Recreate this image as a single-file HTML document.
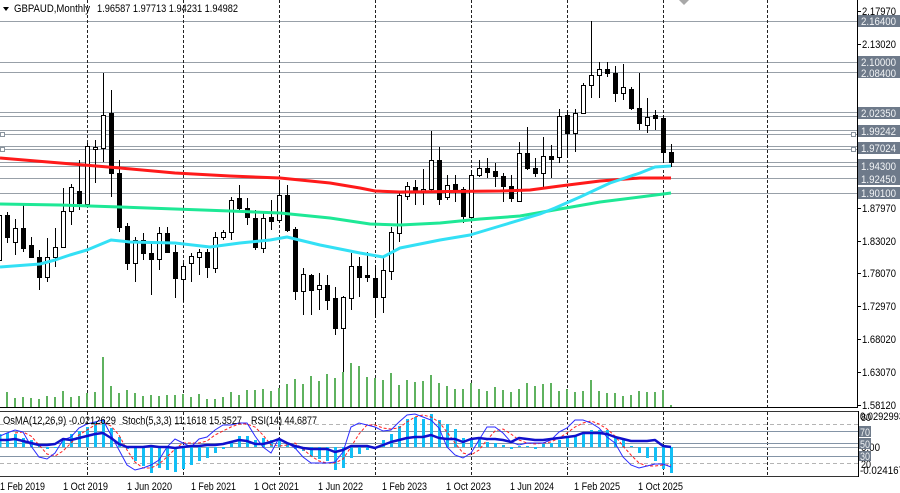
<!DOCTYPE html>
<html><head><meta charset="utf-8"><style>
html,body{margin:0;padding:0;background:#fff;}
svg{display:block;font-family:"Liberation Sans",Arial,sans-serif;font-size:11px;}
</style></head><body>
<svg width="900" height="493" viewBox="0 0 900 493" xmlns="http://www.w3.org/2000/svg">
<rect width="900" height="493" fill="#fff"/>
<!-- level lines -->
<g stroke="#98a0a8" stroke-width="1" shape-rendering="crispEdges">
<path d="M0 21.5H857M0 62.5H857M0 72.5H857M0 112.5H857M0 116.5H857M0 130.5H857M0 134.5H857M0 146.5H857M0 149.5H857M0 162.5H857M0 166.5H857M0 178.5H857M0 193.5H857"/>
</g>
<g fill="#fff" stroke="#8a949e" shape-rendering="crispEdges">
<rect x="0.5" y="132.5" width="4" height="4"/><rect x="0.5" y="147.5" width="4" height="4"/>
<rect x="851.5" y="132.5" width="4" height="4"/><rect x="851.5" y="147.5" width="4" height="4"/>
</g>
<!-- vertical dashed grid -->
<g stroke="#222" stroke-width="1" stroke-dasharray="3,2" shape-rendering="crispEdges">
<path d="M87.5 0V407M183.5 0V407M279.5 0V407M375.5 0V407M471.5 0V407M567.5 0V407M663.5 0V407M767.5 0V407"/>
<path d="M87.5 412V476M183.5 412V476M279.5 412V476M375.5 412V476M471.5 412V476M567.5 412V476M663.5 412V476M767.5 412V476"/>
</g>
<!-- volumes -->
<path stroke="#5fb25f" stroke-width="2" fill="none" d="M7 407V392M15 407V398M23 407V397M31 407V398M39 407V399M47 407V396M55 407V397M63 407V391M71 407V397M79 407V396M87 407V393M95 407V392M103 407V357M111 407V386M119 407V393M127 407V390M135 407V393M143 407V396M151 407V395M159 407V396M167 407V395M175 407V395M183 407V394M191 407V397M199 407V394M207 407V399M215 407V399M223 407V397M231 407V392M239 407V395M247 407V390M255 407V390M263 407V389M271 407V391M279 407V388M287 407V384M295 407V379M303 407V384M311 407V376M319 407V381M327 407V374M335 407V378M343 407V372M351 407V363M359 407V366M367 407V377M375 407V378M383 407V380M391 407V373M399 407V385M407 407V380M415 407V382M423 407V381M431 407V375M439 407V383M447 407V386M455 407V389M463 407V389M471 407V383M479 407V389M487 407V391M495 407V387M503 407V390M511 407V392M519 407V389M527 407V383M535 407V386M543 407V384M551 407V383M559 407V391M567 407V389M575 407V392M583 407V391M591 407V380M599 407V391M607 407V393M615 407V393M623 407V396M631 407V395M639 407V391M647 407V392M655 407V392M663 407V390M671 407V405"/>
<!-- candle wicks -->
<path stroke="#000" stroke-width="1" fill="none" shape-rendering="crispEdges" d="M-0.5 210V265M7.5 212V243M15.5 219V255M23.5 203V252M31.5 237V258M39.5 250V290M47.5 238V282M55.5 228V267M63.5 188V248M71.5 184V225M79.5 160V210M87.5 143V207M95.5 140V183M103.5 73V162M111.5 90V197M119.5 160V232M127.5 223V270M135.5 237V282M143.5 233V260M151.5 242V295M159.5 227V270M167.5 227V253M175.5 245V298M183.5 263V302M191.5 253V282M199.5 249V275M207.5 249V278M215.5 232V273M223.5 230V240M231.5 197V240M239.5 185V210M247.5 198V225M255.5 210V250M263.5 213V253M271.5 200V230M279.5 180V223M287.5 185V232M295.5 227V300M303.5 268V315M311.5 274V315M319.5 273V310M327.5 275V310M335.5 287V335M343.5 296V372M351.5 253V310M359.5 257V297M367.5 252V282M375.5 265V318M383.5 258V313M391.5 227V280M399.5 193V242M407.5 182V200M415.5 180V205M423.5 169V205M431.5 131V192M439.5 147V205M447.5 175V200M455.5 175V202M463.5 187V223M471.5 170V220M479.5 160V177M487.5 158V178M495.5 163V187M503.5 173V202M511.5 175V202M519.5 142V202M527.5 127V170M535.5 158V177M543.5 137V187M551.5 145V178M559.5 109V163M567.5 110V158M575.5 109V152M583.5 83V113M591.5 21V98M599.5 62V98M607.5 62V77M615.5 66V102M623.5 64V100M631.5 87V110M639.5 73V130M647.5 98V133M655.5 110V130M663.5 115V163M671.5 144V167"/>
<!-- white bodies -->
<g fill="#fff" stroke="#000" stroke-width="1" shape-rendering="crispEdges">
<rect x="-2.5" y="215.5" width="4" height="45"/>
<rect x="13.5" y="228.5" width="4" height="14"/>
<rect x="45.5" y="257.5" width="4" height="20"/>
<rect x="53.5" y="247.5" width="4" height="10"/>
<rect x="61.5" y="211.5" width="4" height="36"/>
<rect x="69.5" y="187.5" width="4" height="24"/>
<rect x="85.5" y="146.5" width="4" height="58"/>
<rect x="93.5" y="147.5" width="4" height="2"/>
<rect x="101.5" y="115.5" width="4" height="33"/>
<rect x="133.5" y="240.5" width="4" height="23"/>
<rect x="157.5" y="233.5" width="4" height="26"/>
<rect x="181.5" y="266.5" width="4" height="13"/>
<rect x="189.5" y="256.5" width="4" height="7"/>
<rect x="197.5" y="252.5" width="4" height="5"/>
<rect x="213.5" y="237.5" width="4" height="31"/>
<rect x="221.5" y="232.5" width="4" height="5"/>
<rect x="229.5" y="200.5" width="4" height="32"/>
<rect x="261.5" y="218.5" width="4" height="30"/>
<rect x="277.5" y="195.5" width="4" height="25"/>
<rect x="301.5" y="274.5" width="4" height="17"/>
<rect x="317.5" y="285.5" width="4" height="4"/>
<rect x="341.5" y="297.5" width="4" height="31"/>
<rect x="349.5" y="266.5" width="4" height="32"/>
<rect x="381.5" y="270.5" width="4" height="27"/>
<rect x="389.5" y="232.5" width="4" height="39"/>
<rect x="397.5" y="195.5" width="4" height="38"/>
<rect x="405.5" y="186.5" width="4" height="10"/>
<rect x="421.5" y="189.5" width="4" height="2"/>
<rect x="429.5" y="160.5" width="4" height="29"/>
<rect x="445.5" y="185.5" width="4" height="12"/>
<rect x="469.5" y="175.5" width="4" height="42"/>
<rect x="477.5" y="168.5" width="4" height="7"/>
<rect x="517.5" y="153.5" width="4" height="48"/>
<rect x="541.5" y="156.5" width="4" height="17"/>
<rect x="557.5" y="116.5" width="4" height="41"/>
<rect x="573.5" y="113.5" width="4" height="20"/>
<rect x="581.5" y="85.5" width="4" height="28"/>
<rect x="589.5" y="75.5" width="4" height="10"/>
<rect x="597.5" y="69.5" width="4" height="6"/>
<rect x="621.5" y="87.5" width="4" height="6"/>
<rect x="645.5" y="117.5" width="4" height="8"/>
</g>
<!-- black bodies -->
<g fill="#000" stroke="#000" stroke-width="1" shape-rendering="crispEdges">
<rect x="5.5" y="215.5" width="4" height="22"/>
<rect x="21.5" y="228.5" width="4" height="20"/>
<rect x="29.5" y="245.5" width="4" height="12"/>
<rect x="37.5" y="257.5" width="4" height="20"/>
<rect x="77.5" y="191.5" width="4" height="12"/>
<rect x="109.5" y="113.5" width="4" height="60"/>
<rect x="117.5" y="173.5" width="4" height="54"/>
<rect x="125.5" y="226.5" width="4" height="37"/>
<rect x="141.5" y="240.5" width="4" height="13"/>
<rect x="149.5" y="253.5" width="4" height="6"/>
<rect x="165.5" y="233.5" width="4" height="19"/>
<rect x="173.5" y="252.5" width="4" height="26"/>
<rect x="205.5" y="252.5" width="4" height="15"/>
<rect x="237.5" y="198.5" width="4" height="10"/>
<rect x="245.5" y="208.5" width="4" height="9"/>
<rect x="253.5" y="218.5" width="4" height="29"/>
<rect x="269.5" y="217.5" width="4" height="4"/>
<rect x="285.5" y="195.5" width="4" height="35"/>
<rect x="293.5" y="229.5" width="4" height="62"/>
<rect x="309.5" y="275.5" width="4" height="15"/>
<rect x="325.5" y="285.5" width="4" height="15"/>
<rect x="333.5" y="298.5" width="4" height="30"/>
<rect x="357.5" y="266.5" width="4" height="11"/>
<rect x="365.5" y="275.5" width="4" height="2"/>
<rect x="373.5" y="278.5" width="4" height="19"/>
<rect x="413.5" y="187.5" width="4" height="3"/>
<rect x="437.5" y="160.5" width="4" height="39"/>
<rect x="453.5" y="184.5" width="4" height="5"/>
<rect x="461.5" y="189.5" width="4" height="27"/>
<rect x="485.5" y="168.5" width="4" height="4"/>
<rect x="493.5" y="171.5" width="4" height="5"/>
<rect x="501.5" y="176.5" width="4" height="10"/>
<rect x="509.5" y="186.5" width="4" height="12"/>
<rect x="525.5" y="153.5" width="4" height="15"/>
<rect x="533.5" y="168.5" width="4" height="5"/>
<rect x="549.5" y="156.5" width="4" height="3"/>
<rect x="565.5" y="115.5" width="4" height="18"/>
<rect x="605.5" y="69.5" width="4" height="4"/>
<rect x="613.5" y="73.5" width="4" height="20"/>
<rect x="629.5" y="89.5" width="4" height="19"/>
<rect x="637.5" y="108.5" width="4" height="15"/>
<rect x="653.5" y="115.5" width="4" height="3"/>
<rect x="661.5" y="118.5" width="4" height="34"/>
<rect x="669.5" y="152.5" width="4" height="10"/>
</g>
<!-- moving averages -->
<g fill="none" stroke-width="3" stroke-linejoin="round">
<polyline stroke="#ff1a1a" points="0,158 60,163 120,168 175,173 230,176 280,178 330,183 360,188 375,191 400,192 500,191 530,190 560,186 600,181 640,178 671,178"/>
<polyline stroke="#1ee896" points="0,204 60,205 120,207 175,209 230,211 280,213 330,218 370,224 400,225 440,223 480,219 520,216 560,209 600,202 640,197 671,193"/>
<polyline stroke="#33e0f5" points="0,267 40,264 55,260 70,255 87,250 111,240 130,242 175,243 210,247 240,243 270,240 287,237 320,245 360,253 383,257 400,248 440,240 470,235 500,226 540,214 555,208 580,197 610,183 640,173 655,167 671,166"/>
</g>
<!-- header -->
<polygon points="3,7 9,7 6,11" fill="#000"/>
<text x="14" y="12" fill="#000" textLength="76" lengthAdjust="spacingAndGlyphs">GBPAUD,Monthly</text>
<text x="97" y="12" fill="#000" textLength="141" lengthAdjust="spacingAndGlyphs">1.96587 1.97713 1.94231 1.94982</text>
<polygon points="679,0 689,0 684,5" fill="#a8a8a8"/>
<!-- main panel frame -->
<g stroke="#000" shape-rendering="crispEdges">
<line x1="857.5" y1="0" x2="857.5" y2="408"/>
<line x1="0" y1="407.5" x2="858" y2="407.5"/>
</g>
<!-- right axis ticks -->
<path stroke="#000" shape-rendering="crispEdges" d="M857 11.5H861M857 44.5H861M857 208.5H861M857 241.5H861M857 273.5H861M857 306.5H861M857 339.5H861M857 372.5H861M857 405.5H861"/>
<g fill="#000">
<text x="862" y="15" textLength="34" lengthAdjust="spacingAndGlyphs">2.17970</text>
<text x="862" y="48" textLength="34" lengthAdjust="spacingAndGlyphs">2.13020</text>
<text x="862" y="212" textLength="34" lengthAdjust="spacingAndGlyphs">1.87970</text>
<text x="862" y="245" textLength="34" lengthAdjust="spacingAndGlyphs">1.83020</text>
<text x="862" y="277" textLength="34" lengthAdjust="spacingAndGlyphs">1.78070</text>
<text x="862" y="310" textLength="34" lengthAdjust="spacingAndGlyphs">1.72970</text>
<text x="862" y="343" textLength="34" lengthAdjust="spacingAndGlyphs">1.68020</text>
<text x="862" y="376" textLength="34" lengthAdjust="spacingAndGlyphs">1.63070</text>
<text x="862" y="409" textLength="34" lengthAdjust="spacingAndGlyphs">1.58120</text>
</g>
<!-- level label boxes -->
<g fill="#6e7a8a">
<rect x="858" y="15" width="42" height="12"/>
<rect x="858" y="56" width="42" height="12"/>
<rect x="858" y="68" width="42" height="10"/>
<rect x="858" y="107" width="42" height="12"/>
<rect x="858" y="125" width="42" height="12"/>
<rect x="858" y="142" width="42" height="12"/>
<rect x="858" y="159" width="42" height="13"/>
<rect x="858" y="172" width="42" height="13"/>
<rect x="858" y="187" width="42" height="12"/>
</g>
<g fill="#f2f4f6">
<text x="861" y="25" textLength="35" lengthAdjust="spacingAndGlyphs">2.16400</text>
<text x="861" y="66" textLength="35" lengthAdjust="spacingAndGlyphs">2.10000</text>
<text x="861" y="77" textLength="35" lengthAdjust="spacingAndGlyphs">2.08400</text>
<text x="861" y="117" textLength="35" lengthAdjust="spacingAndGlyphs">2.02350</text>
<text x="861" y="135" textLength="35" lengthAdjust="spacingAndGlyphs">1.99242</text>
<text x="861" y="152" textLength="35" lengthAdjust="spacingAndGlyphs">1.97024</text>
<text x="861" y="170" textLength="35" lengthAdjust="spacingAndGlyphs">1.94300</text>
<text x="861" y="183" textLength="35" lengthAdjust="spacingAndGlyphs">1.92450</text>
<text x="861" y="197" textLength="35" lengthAdjust="spacingAndGlyphs">1.90100</text>
</g>
<!-- indicator panel -->
<g shape-rendering="crispEdges">
<line x1="0" y1="411.5" x2="858" y2="411.5" stroke="#333"/>
<line x1="0" y1="476.5" x2="858" y2="476.5" stroke="#333"/>
<line x1="858.5" y1="411" x2="858.5" y2="477" stroke="#000"/>
<path stroke="#b4b4b4" stroke-dasharray="4,3" d="M0 424.5H858M0 463.5H858"/>
<path stroke="#8494a6" d="M0 431.5H858M0 443.5H858M0 456.5H858"/>
<path stroke="#9aa4ae" d="M0 447.5H858"/>
</g>
<!-- OsMA histogram -->
<path stroke="#12bff5" stroke-width="3" fill="none" shape-rendering="crispEdges" d="M0 447V434M7.5 447V433M15.5 447V434M23.5 447V438M31.5 447V440M39.5 447V446M47.5 447V449M55.5 447V448M63.5 447V440M71.5 447V434M79.5 447V431M87.5 447V427M95.5 447V422M103.5 447V420M111.5 447V428M119.5 447V437M127.5 447V449M135.5 447V461M143.5 447V466M151.5 447V473M159.5 447V468M167.5 447V470M175.5 447V472M183.5 447V469M191.5 447V465M199.5 447V461M207.5 447V458M215.5 447V453M223.5 447V449M231.5 447V442M239.5 447V436M247.5 447V436M255.5 447V440M263.5 447V438M271.5 447V440M279.5 447V439M287.5 447V443M295.5 447V449M303.5 447V451M311.5 447V457M319.5 447V459M327.5 447V461M335.5 447V470M343.5 447V468M351.5 447V458M359.5 447V454M367.5 447V450M375.5 447V448M383.5 447V440M391.5 447V434M399.5 447V426M407.5 447V419M415.5 447V417M423.5 447V419M431.5 447V414M439.5 447V420M447.5 447V424M455.5 447V429M463.5 447V438M471.5 447V440M479.5 447V439M487.5 447V442M495.5 447V443M503.5 447V445M511.5 447V449M519.5 447V446M527.5 447V446M535.5 447V449M543.5 447V444M551.5 447V443M559.5 447V440M567.5 447V437M575.5 447V436M583.5 447V433M591.5 447V430M599.5 447V430M607.5 447V430M615.5 447V437M623.5 447V439M631.5 447V446M639.5 447V453M647.5 447V458M655.5 447V461M663.5 447V469M671.5 447V473"/>
<!-- Stoch signal -->
<polyline fill="none" stroke="#ff2020" stroke-width="1" stroke-dasharray="3,2" points="15,433 23,432 31,436 39,445 47,454 55,456 63,451 71,443 79,435 87,430 95,425 103,422 111,426 119,435 127,450 135,462 143,468 151,468 159,464 167,457 175,449 183,443 191,443 199,443 207,441 215,435 223,431 231,427 239,424 247,424 255,427 263,435 271,445 279,446 287,445 295,443 303,449 311,456 319,461 327,463 335,463 343,459 351,447 359,434 367,425 375,425 383,428 391,429 399,428 407,422 415,417 423,415 431,417 439,422 447,432 455,443 463,453 471,455 479,450 487,440 495,431 503,429 511,434 519,440 527,443 535,444 543,443 551,442 559,438 567,433 575,427 583,423 591,421 599,424 607,429 615,436 623,446 631,455 639,463 647,466 655,466 663,465 671,465"/>
<!-- Stoch main -->
<polyline fill="none" stroke="#2a2aff" stroke-width="1" points="0,436 7,433 15,430 23,432 31,446 39,457 47,459 55,453 63,440 71,437 79,428 87,424 95,422 103,420 111,435 119,450 127,465 135,470 143,468 151,465 159,460 167,447 175,439 183,443 191,447 199,439 207,437 215,430 223,425 231,425 239,423 247,423 255,436 263,447 271,453 279,438 287,443 295,448 303,457 311,463 319,463 327,463 335,462 343,452 351,427 359,423 367,425 375,427 383,431 391,430 399,422 407,415 415,414 423,417 431,420 439,428 447,447 455,455 463,458 471,453 479,440 487,427 495,427 503,433 511,442 519,445 527,443 535,443 543,443 551,440 559,432 567,428 575,420 583,420 591,423 599,428 607,437 615,443 623,457 631,465 639,468 647,466 655,464 663,464 671,467"/>
<!-- RSI -->
<polyline fill="none" stroke="#1010cc" stroke-width="2.5" stroke-linejoin="round" points="0,440 7,440 15,439 23,441 31,443 39,445 47,445 55,444 63,439 71,440 79,438 87,436 95,434 103,433 111,438 119,444 127,447 135,447 143,447 151,446 159,447 167,447 175,448 183,447 191,446 199,446 207,445 215,445 223,444 231,442 239,440 247,441 255,444 263,444 271,442 279,439 287,443 295,446 303,448 311,449 319,449 327,449 335,452 343,450 351,446 359,446 367,446 375,448 383,445 391,442 399,440 407,438 415,437 423,437 431,435 439,438 447,439 455,439 463,442 471,439 479,438 487,439 495,439 503,440 511,442 519,438 527,439 535,440 543,440 551,439 559,438 567,437 575,436 583,433 591,433 599,433 607,434 615,437 623,439 631,441 639,441 647,441 655,440 663,446 671,447"/>
<!-- indicator label -->
<g fill="#000">
<text x="3" y="424" textLength="113" lengthAdjust="spacingAndGlyphs">OsMA(12,26,9) -0.0212629</text>
<text x="122" y="424" textLength="120" lengthAdjust="spacingAndGlyphs">Stoch(5,3,3) 11.1618 15.3527</text>
<text x="251" y="424" textLength="66" lengthAdjust="spacingAndGlyphs">RSI(14) 44.6877</text>
</g>
<!-- indicator right axis -->
<g fill="#000">
<text x="861" y="421" textLength="10" lengthAdjust="spacingAndGlyphs">80</text>
<text x="860" y="420" textLength="44" lengthAdjust="spacingAndGlyphs">0.0292993</text>
<text x="861" y="451" textLength="19" lengthAdjust="spacingAndGlyphs">0.00</text>
<text x="861" y="468" textLength="10" lengthAdjust="spacingAndGlyphs">20</text>
<text x="860" y="474" textLength="44" lengthAdjust="spacingAndGlyphs">-0.024167</text>
</g>
<g fill="#6e7a8a">
<rect x="859" y="426" width="12" height="11"/>
<rect x="859" y="438" width="12" height="11"/>
<rect x="859" y="451" width="12" height="10"/>
</g>
<g fill="#f2f4f6">
<text x="860" y="436" textLength="10" lengthAdjust="spacingAndGlyphs">70</text>
<text x="860" y="448" textLength="10" lengthAdjust="spacingAndGlyphs">50</text>
<text x="860" y="460" textLength="10" lengthAdjust="spacingAndGlyphs">30</text>
</g>
<!-- x axis labels -->
<g fill="#000">
<text x="0" y="490" textLength="45" lengthAdjust="spacingAndGlyphs">1 Feb 2019</text>
<text x="63" y="490" textLength="45" lengthAdjust="spacingAndGlyphs">1 Oct 2019</text>
<text x="127" y="490" textLength="45" lengthAdjust="spacingAndGlyphs">1 Jun 2020</text>
<text x="191" y="490" textLength="45" lengthAdjust="spacingAndGlyphs">1 Feb 2021</text>
<text x="254" y="490" textLength="45" lengthAdjust="spacingAndGlyphs">1 Oct 2021</text>
<text x="318" y="490" textLength="45" lengthAdjust="spacingAndGlyphs">1 Jun 2022</text>
<text x="382" y="490" textLength="45" lengthAdjust="spacingAndGlyphs">1 Feb 2023</text>
<text x="446" y="490" textLength="45" lengthAdjust="spacingAndGlyphs">1 Oct 2023</text>
<text x="510" y="490" textLength="44" lengthAdjust="spacingAndGlyphs">1 Jun 2024</text>
<text x="574" y="490" textLength="46" lengthAdjust="spacingAndGlyphs">1 Feb 2025</text>
<text x="638" y="490" textLength="45" lengthAdjust="spacingAndGlyphs">1 Oct 2025</text>
</g>
</svg>
</body></html>
